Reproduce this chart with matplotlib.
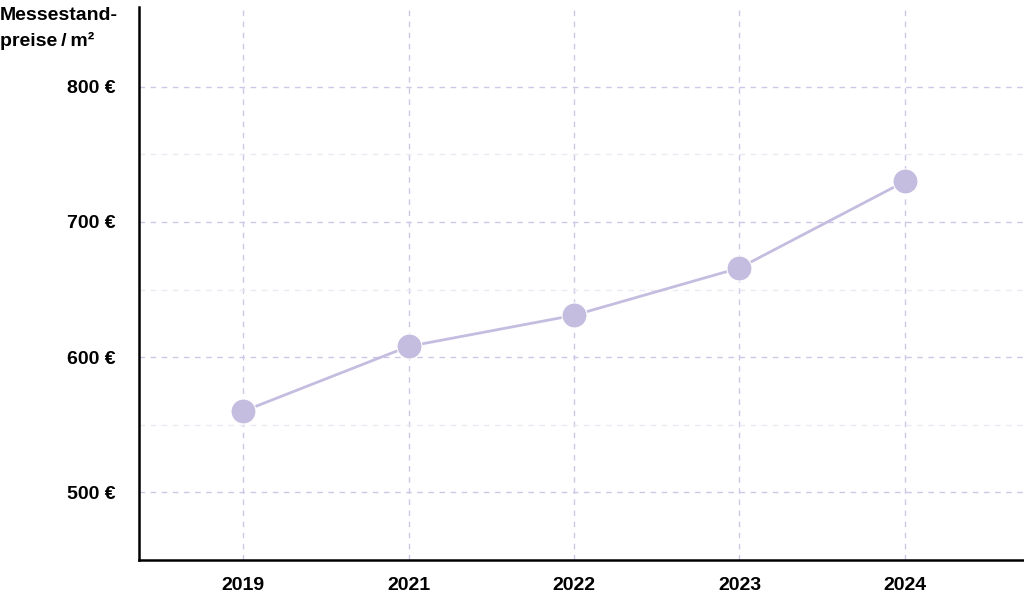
import numpy as np
import matplotlib.pyplot as plt
from matplotlib.ticker import FixedLocator

# data
years = ['2019', '2021', '2022', '2023', '2024']
prices = [560, 608, 631, 666, 730]
y_major = [500, 600, 700, 800]
y_minor = [550, 650, 750]

plt.rcParams['font.family'] = ['Liberation Sans', 'DejaVu Sans']

fig = plt.figure(figsize=(10.24, 6.04), dpi=100)
ax = fig.add_axes([139 / 1024, 44 / 604, 885 / 1024, 553 / 604])

xpos = np.arange(len(years))
ax.plot(xpos, prices, color='#c5bde0', linewidth=2, marker='o',
        markersize=18, markerfacecolor='#c5bde0', markeredgecolor='white',
        markeredgewidth=0.8, zorder=3)

ax.set_xlim(-0.63, 4.72)
ax.set_ylim(450, 859)
ax.set_xticks(xpos)
ax.set_xticklabels(years)
ax.yaxis.set_major_locator(FixedLocator(y_major))
ax.yaxis.set_minor_locator(FixedLocator(y_minor))
ax.set_yticklabels([f'{v} €' for v in y_major])

for lab in ax.get_xticklabels() + ax.get_yticklabels():
    lab.set_fontweight('bold')
    lab.set_fontsize(14)

ax.tick_params(axis='both', which='both', length=0)
ax.tick_params(axis='x', pad=12)
ax.tick_params(axis='y', pad=17)

ax.grid(True, which='major', axis='both', color='#cdc8e6', linestyle=(0, (4, 4)), linewidth=1)
ax.grid(True, which='minor', axis='y', color='#ebe8f4', linestyle=(0, (4, 4)), linewidth=1)

ax.spines['top'].set_visible(False)
ax.spines['right'].set_visible(False)
ax.spines['left'].set_linewidth(1.8)
ax.spines['bottom'].set_linewidth(1.8)

fig.text(0.0, 1 - 7 / 604, 'Messestand-\npreise\u2009/\u2009m²', fontsize=14,
         fontweight='bold', ha='left', va='top', linespacing=1.55)

plt.savefig('out.png', dpi=100)
